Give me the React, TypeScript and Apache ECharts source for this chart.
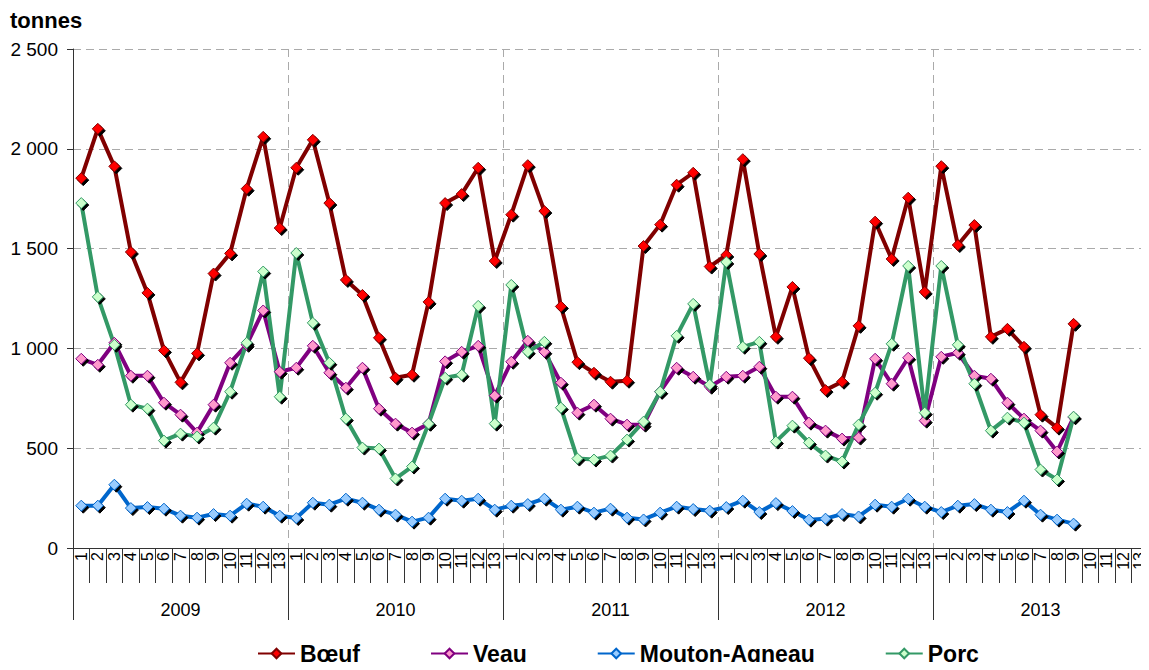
import React, { useEffect, useRef } from "react";
import * as echarts from "echarts";

const years = ["2009", "2010", "2011", "2012", "2013"];
const periods = ["1", "2", "3", "4", "5", "6", "7", "8", "9", "10", "11", "12", "13"];
const yTicks = [0, 500, 1000, 1500, 2000, 2500];

const boeuf = [
  1853, 2100, 1912, 1483, 1278, 990, 830, 975, 1375, 1476, 1800, 2060, 1603,
  1905, 2045, 1728, 1343, 1268, 1053, 853, 868, 1233, 1728, 1773, 1905, 1438,
  1670, 1918, 1688, 1210, 931, 878, 833, 838, 1513, 1620, 1820, 1880, 1410,
  1468, 1948, 1473, 1058, 1308, 951, 791, 833, 1113, 1635, 1448, 1755, 1283,
  1913, 1518, 1618, 1058, 1098, 1008, 668, 603, 1123, null, null, null, null,
];
const veau = [
  948, 918, 1028, 863, 863, 728, 668, 578, 718, 928, 1018, 1190, 883,
  903, 1013, 878, 803, 903, 698, 623, 578, 623, 935, 983, 1013, 763,
  933, 1038, 983, 828, 678, 718, 648, 618, 618, 783, 903, 858, 808,
  858, 863, 908, 758, 758, 628, 588, 548, 553, 948, 823, 953, 638,
  958, 978, 863, 848, 728, 648, 588, 483, 655, null, null, null, null,
];
const mouton = [
  212, 212, 317, 200, 205, 197, 162, 152, 170, 162, 222, 207, 162,
  150, 227, 217, 247, 227, 192, 167, 132, 152, 247, 237, 247, 192,
  212, 220, 247, 192, 207, 177, 197, 152, 143, 177, 207, 195, 187,
  205, 237, 180, 225, 185, 142, 147, 170, 158, 217, 207, 247, 207,
  180, 212, 220, 192, 180, 237, 167, 142, 122, null, null, null, null,
];
const porc = [
  1728, 1258, 1018, 718, 698, 538, 573, 558, 603, 783, 1028, 1385, 758,
  1478, 1128, 928, 648, 503, 498, 348, 408, 623, 853, 868, 1213, 623,
  1318, 983, 1033, 703, 448, 443, 463, 543, 633, 783, 1063, 1223, 818,
  1433, 1008, 1033, 533, 613, 528, 463, 433, 618, 778, 1023, 1413, 678,
  1413, 1018, 823, 588, 653, 628, 393, 343, 658, null, null, null, null,
];

const FONT = "'Liberation Sans', Arial, sans-serif";

function fmt(v: number): string {
  if (v >= 1000) {
    const th = Math.floor(v / 1000);
    const rest = String(v % 1000).padStart(3, "0");
    return th + " " + rest;
  }
  return String(v);
}

function mkSeries(name: string, data: (number | null)[], line: string, fill: string, border: string) {
  return {
    name,
    type: "line",
    data,
    xAxisIndex: 0,
    yAxisIndex: 0,
    symbol: "diamond",
    symbolSize: 11,
    showSymbol: true,
    connectNulls: false,
    lineStyle: { color: line, width: 4 },
    itemStyle: {
      color: fill,
      borderColor: border,
      borderWidth: 1,
      shadowColor: "#000",
      shadowOffsetX: 2,
      shadowOffsetY: 2,
      shadowBlur: 0,
    },
    emphasis: { disabled: true },
  };
}

export default function App() {
  const ref = useRef<HTMLDivElement>(null);
  useEffect(() => {
    if (!ref.current) return;
    const chart = echarts.init(ref.current, undefined, { renderer: "svg" });
    const cats: string[] = [];
    years.forEach(() => periods.forEach((p) => cats.push(p)));
    chart.setOption({
      animation: false,
      backgroundColor: "#fff",
      textStyle: { fontFamily: FONT },
      graphic: [
        {
          type: "text",
          left: 10,
          top: 9,
          style: { text: "tonnes", font: "bold 22px " + FONT, fill: "#000" },
        },
      ],
      grid: { left: 73, right: 1, top: 49, bottom: 122, containLabel: false },
      legend: {
        left: 252,
        top: 637,
        itemWidth: 37,
        itemHeight: 12,
        itemGap: 70,
        textStyle: { fontFamily: FONT, fontSize: 23, fontWeight: "bold", color: "#000" },
        data: ["Bœuf", "Veau", "Mouton-Agneau", "Porc"],
      },
      xAxis: [
        {
          type: "category",
          data: cats,
          boundaryGap: true,
          position: "bottom",
          axisLine: { show: true, lineStyle: { color: "#333", width: 1 } },
          axisTick: { show: true, length: 35, interval: 0, lineStyle: { color: "#333" } },
          axisLabel: {
            interval: 0,
            rotate: 90,
            fontSize: 16,
            fontFamily: FONT,
            color: "#000",
            margin: 4,
          },
          splitLine: { show: false },
        },
        {
          type: "category",
          data: years,
          boundaryGap: true,
          position: "bottom",
          axisLine: { show: false },
          axisTick: { show: true, length: 72, interval: 0, lineStyle: { color: "#333" } },
          axisLabel: { interval: 0, fontSize: 18, fontFamily: FONT, color: "#000", margin: 53 },
          splitLine: {
            show: true,
            interval: 0,
            lineStyle: { color: "#aaa", type: [8, 5], width: 1 },
          },
        },
      ],
      yAxis: {
        type: "value",
        min: yTicks[0],
        max: yTicks[yTicks.length - 1],
        interval: 500,
        axisLine: { show: true, lineStyle: { color: "#333" } },
        axisTick: { show: true, length: 6, lineStyle: { color: "#333" } },
        axisLabel: {
          formatter: (v: number) => fmt(v),
          fontSize: 19,
          fontFamily: FONT,
          color: "#000",
          margin: 15,
        },
        splitLine: { show: true, lineStyle: { color: "#aaa", type: [8, 5], width: 1 } },
      },
      series: [
        mkSeries("Bœuf", boeuf, "#800000", "#FF0000", "#800000"),
        mkSeries("Veau", veau, "#800080", "#FF99CC", "#800080"),
        mkSeries("Mouton-Agneau", mouton, "#0066CC", "#99CCFF", "#0066CC"),
        mkSeries("Porc", porc, "#339966", "#CCFFCC", "#339966"),
      ],
    });
    return () => chart.dispose();
  }, []);
  return <div ref={ref} style={{ width: 1149, height: 670, margin: -8 }} />;
}
